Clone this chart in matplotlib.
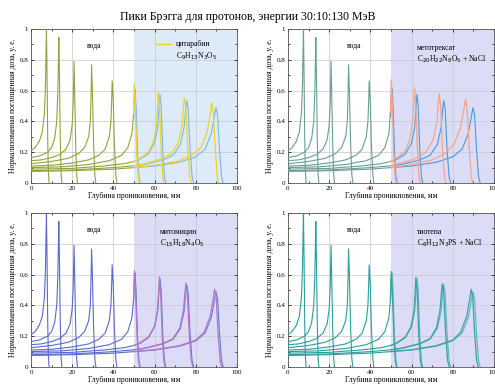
import numpy as np
import matplotlib
matplotlib.use("Agg")
import matplotlib.pyplot as plt

plt.rcParams['font.family'] = ['Liberation Serif', 'DejaVu Serif']

# Bragg curves in water, (depth mm, dose) points
water_curves = [
    [(0, 0.21), (2, 0.23), (4, 0.27), (5.5, 0.33), (6.5, 0.45), (7.0, 0.62), (7.3, 0.85), (7.5, 1.0),
     (7.8, 0.7), (8.1, 0.3), (8.4, 0.08), (8.8, 0.0)],
    [(0, 0.165), (4, 0.175), (8, 0.2), (10, 0.23), (11.5, 0.29), (12.5, 0.4), (13.0, 0.58), (13.3, 0.78),
     (13.5, 0.945), (13.8, 0.7), (14.2, 0.3), (14.6, 0.06), (15.0, 0.0)],
    [(0, 0.145), (5, 0.15), (10, 0.165), (14, 0.185), (17, 0.22), (19, 0.28), (20, 0.38), (20.5, 0.52),
     (20.9, 0.79), (21.2, 0.6), (21.7, 0.25), (22.2, 0.05), (22.6, 0.0)],
    [(0, 0.125), (10, 0.14), (18, 0.16), (23, 0.19), (26, 0.23), (28, 0.3), (28.8, 0.4), (29.2, 0.6),
     (29.4, 0.767), (29.8, 0.6), (30.4, 0.25), (31.0, 0.05), (31.5, 0.0)],
    [(0, 0.11), (10, 0.115), (20, 0.13), (28, 0.15), (33, 0.18), (36, 0.22), (38, 0.3), (38.8, 0.4),
     (39.2, 0.55), (39.4, 0.663), (39.9, 0.55), (40.5, 0.25), (41.2, 0.05), (41.7, 0.0)],
    [(0, 0.10), (15, 0.105), (28, 0.12), (38, 0.145), (44, 0.18), (47, 0.23), (49, 0.32), (49.8, 0.43),
     (50.2, 0.58), (50.5, 0.61), (51, 0.5), (51.7, 0.2), (52.4, 0.04), (53, 0.0)],
    [(0, 0.09), (20, 0.095), (35, 0.11), (45, 0.125), (50, 0.14), (53, 0.155), (57, 0.19), (60, 0.26),
     (61.5, 0.36), (62.2, 0.5), (62.6, 0.575), (63.2, 0.5), (64, 0.2), (64.8, 0.04), (65.4, 0.0)],
    [(0, 0.08), (20, 0.085), (40, 0.1), (50, 0.112), (55, 0.12), (64, 0.15), (69, 0.18), (72.5, 0.25),
     (74.3, 0.36), (75.1, 0.48), (75.6, 0.535), (76.3, 0.48), (77.2, 0.22), (78.2, 0.04), (79, 0.0)],
    [(0, 0.075), (20, 0.08), (40, 0.09), (50, 0.1), (60, 0.11), (72, 0.135), (80, 0.17), (84.5, 0.22),
     (87.5, 0.32), (89, 0.43), (89.8, 0.49), (90.6, 0.44), (91.5, 0.22), (92.5, 0.04), (93.3, 0.0)],
]

# drug-region parts of the last four curves (from 50 mm on), one list per panel
cytarabine_tails = [
    [(49.8, 0.45), (50.1, 0.645), (50.6, 0.5), (51.3, 0.2), (52.0, 0.04), (52.6, 0.0)],
    [(50, 0.14), (53, 0.16), (57, 0.2), (59.5, 0.27), (61, 0.38), (61.5, 0.5), (61.8, 0.59), (62.4, 0.5),
     (63.2, 0.2), (64.0, 0.04), (64.6, 0.0)],
    [(50, 0.112), (55, 0.125), (63, 0.155), (68, 0.19), (71.5, 0.26), (73.3, 0.37), (74.0, 0.49),
     (74.5, 0.554), (75.2, 0.48), (76.1, 0.22), (77.1, 0.04), (77.8, 0.0)],
    [(50, 0.1), (60, 0.115), (71, 0.14), (78, 0.18), (82.5, 0.23), (85.5, 0.33), (87, 0.45), (87.7, 0.52),
     (88.5, 0.46), (89.5, 0.22), (90.4, 0.04), (91.1, 0.0)],
]
methotrexate_tails = [
    [(49.7, 0.46), (50.1, 0.67), (50.6, 0.52), (51.3, 0.2), (52.0, 0.04), (52.6, 0.0)],
    [(50, 0.14), (53, 0.165), (57, 0.21), (59, 0.28), (60.5, 0.4), (61.1, 0.53), (61.4, 0.62), (62.0, 0.52),
     (62.8, 0.22), (63.6, 0.04), (64.2, 0.0)],
    [(50, 0.112), (55, 0.13), (62, 0.16), (67, 0.2), (70.5, 0.28), (72.3, 0.4), (73.0, 0.52), (73.4, 0.58),
     (74.1, 0.5), (75.0, 0.22), (76.0, 0.04), (76.7, 0.0)],
    [(50, 0.1), (60, 0.12), (70, 0.15), (76, 0.19), (80.5, 0.25), (83.8, 0.36), (85.4, 0.48), (86.2, 0.545),
     (87.0, 0.47), (88.0, 0.22), (89.0, 0.04), (89.7, 0.0)],
]
mitomycin_tails = [
    [(49.8, 0.44), (50.2, 0.625), (50.7, 0.5), (51.5, 0.2), (52.2, 0.04), (52.8, 0.0)],
    [(50, 0.14), (53, 0.158), (57, 0.195), (60, 0.265), (61.4, 0.37), (62.0, 0.51), (62.3, 0.585),
     (62.9, 0.5), (63.7, 0.2), (64.5, 0.04), (65.1, 0.0)],
    [(50, 0.112), (55, 0.122), (64, 0.152), (69, 0.185), (72.3, 0.255), (74.0, 0.37), (74.8, 0.49),
     (75.2, 0.545), (75.9, 0.48), (76.8, 0.22), (77.8, 0.04), (78.6, 0.0)],
    [(50, 0.1), (60, 0.112), (72, 0.138), (80, 0.175), (84, 0.225), (87, 0.33), (88.4, 0.44), (89.1, 0.505),
     (89.9, 0.45), (90.8, 0.22), (91.8, 0.04), (92.6, 0.0)],
]
thiotepa_tails = [
    [(49.7, 0.44), (50.1, 0.62), (50.6, 0.5), (51.4, 0.2), (52.1, 0.04), (52.7, 0.0)],
    [(50, 0.14), (53, 0.158), (57, 0.195), (59.8, 0.265), (61.2, 0.37), (61.8, 0.51), (62.1, 0.58),
     (62.7, 0.5), (63.5, 0.2), (64.3, 0.04), (64.9, 0.0)],
    [(50, 0.112), (55, 0.122), (64, 0.152), (69, 0.185), (72.1, 0.255), (73.8, 0.37), (74.5, 0.49),
     (74.9, 0.54), (75.6, 0.48), (76.5, 0.22), (77.5, 0.04), (78.3, 0.0)],
    [(50, 0.1), (60, 0.112), (72, 0.138), (80, 0.175), (83.8, 0.225), (86.8, 0.33), (88.2, 0.44),
     (88.9, 0.505), (89.7, 0.45), (90.6, 0.22), (91.6, 0.04), (92.4, 0.0)],
]

drug_names = ['цитарабин', 'метотрексат', 'митомицин', 'тиотепа']
drug_formulas = [r'C$_9$H$_{13}$N$_3$O$_5$', r'C$_{20}$H$_{22}$N$_8$O$_5$ + NaCl',
                 r'C$_{15}$H$_{18}$N$_4$O$_5$', r'C$_6$H$_{12}$N$_3$PS + NaCl']
all_tails = [cytarabine_tails, methotrexate_tails, mitomycin_tails, thiotepa_tails]

# colours: part before 50 mm (shared), water after 50 mm, drug after 50 mm, shading
left_colors = ['#8fa63c', '#6a9e94', '#5a6ad0', '#2a9e9e']
water_colors = ['#7ab8e6', '#4a9ae0', '#6a78d8', '#5ab4c4']
drug_colors = ['#f0d424', '#f4a58a', '#b478c8', '#3aa49c']
shade_colors = ['#dcebf7', '#dcdcf7', '#dcdcf7', '#dcdcf7']

W, H = 495, 385
fig = plt.figure(figsize=(W / 100, H / 100), dpi=100)
fig.text(0.5, 0.955, 'Пики Брэгга для протонов, энергии 30:10:130 МэВ', ha='center', va='center', fontsize=8.5)

boxes = [(31, 29), (288, 29), (31, 213), (288, 213)]
aw, ah = 206, 154

for i, (px, py) in enumerate(boxes):
    ax = fig.add_axes([px / W, 1 - (py + ah) / H, aw / W, ah / H])
    ax.axvspan(50, 100, color=shade_colors[i], lw=0, zorder=0)
    ax.grid(True, color='#c8c8c8', lw=0.5, zorder=1)
    ax.set_axisbelow(True)

    for k, wc in enumerate(water_curves):
        pts = np.array(wc)
        if k < 5:
            ax.plot(pts[:, 0], pts[:, 1], color=left_colors[i], lw=0.8, zorder=3)
            continue
        tail = np.array(all_tails[i][k - 5])
        left = pts[pts[:, 0] < tail[0, 0]]
        left = np.vstack([left, tail[:1]])
        right = pts[pts[:, 0] >= tail[0, 0]]
        ax.plot(right[:, 0], right[:, 1], color=water_colors[i], lw=0.8, zorder=3)
        ax.plot(tail[:, 0], tail[:, 1], color=drug_colors[i], lw=0.9, zorder=4)
        ax.plot(left[:, 0], left[:, 1], color=left_colors[i], lw=0.8, zorder=3)

    ax.set_xlim(0, 100)
    ax.set_ylim(0, 1)
    ax.set_xticks([0, 20, 40, 60, 80, 100])
    ax.set_xticklabels(['0', '20', '40', '60', '80', '100'])
    ax.set_yticks([0, 0.2, 0.4, 0.6, 0.8, 1])
    ax.set_yticklabels(['0', '0.2', '0.4', '0.6', '0.8', '1'])
    ax.set_xticks(np.arange(10, 100, 20), minor=True)
    ax.set_yticks([0.1, 0.3, 0.5, 0.7, 0.9], minor=True)
    ax.tick_params(which='both', direction='in', top=True, right=True, labelsize=5, pad=2, width=0.5)
    ax.tick_params(which='major', length=2.5)
    ax.tick_params(which='minor', length=1.5)
    for s in ax.spines.values():
        s.set_color('#555555')
        s.set_linewidth(0.6)
    ax.set_xlabel('Глубина проникновения, мм', fontsize=5.5, labelpad=1)
    ax.set_ylabel('Нормализованная поглощенная доза, у. е.', fontsize=5.5, labelpad=2)

    ax.text(30.5 if i % 2 == 0 else 32, 0.89, 'вода', fontsize=5.5, ha='center', va='center')
    if i == 0:
        ax.plot([60.5, 68], [0.9, 0.9], color=drug_colors[0], lw=1.0)
        ax.text(70.3, 0.9, drug_names[0], fontsize=5.5, va='center')
        ax.text(70.3, 0.82, drug_formulas[0], fontsize=5.5, va='center')
    else:
        ax.text(62.7, 0.875, drug_names[i], fontsize=5.5, va='center')
        ax.text(62.7, 0.805, drug_formulas[i], fontsize=5.5, va='center')

fig.savefig('out.png', dpi=100)
